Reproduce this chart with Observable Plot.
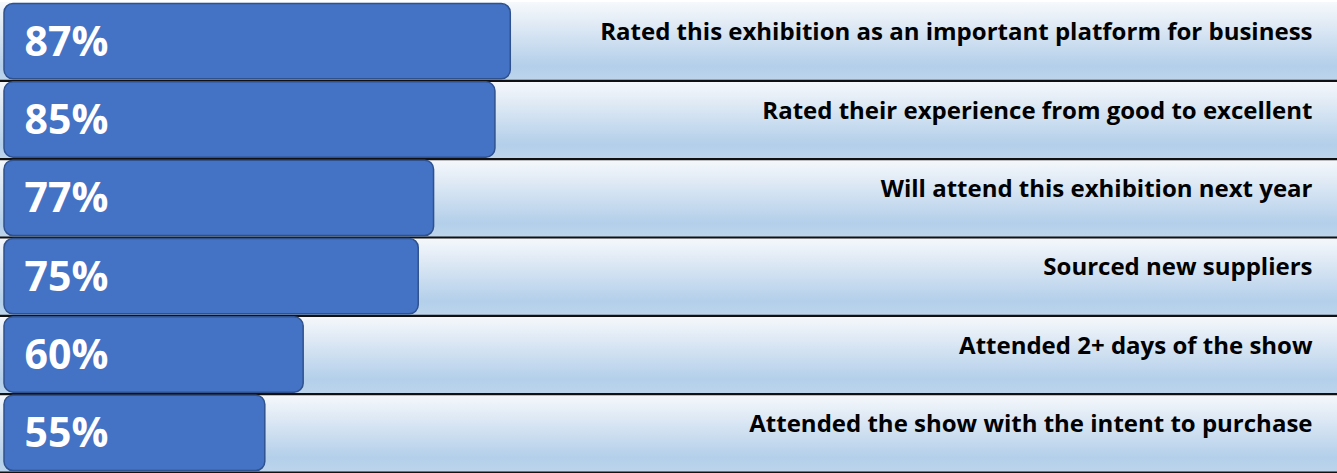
<!DOCTYPE html>
<html>
<head>
<meta charset="utf-8">
<script src="https://cdn.jsdelivr.net/npm/d3@7"></script>
<script src="https://cdn.jsdelivr.net/npm/@observablehq/plot@0.6"></script>
<style>
  html, body { margin: 0; padding: 0; background: #ffffff; }
  #chart svg { display: block; }
</style>
</head>
<body>
<div id="chart"></div>
<script>
const labels = [
  "Rated this exhibition as an important platform for business",
  "Rated their experience from good to excellent",
  "Will attend this exhibition next year",
  "Sourced new suppliers",
  "Attended 2+ days of the show",
  "Attended the show with the intent to purchase"
];
const values = [87, 85, 77, 75, 60, 55];
const barBase = 21;

const rows = labels.map((label, i) => ({i, label, value: values[i]}));

const defsMark = () => {
  const ns = "http://www.w3.org/2000/svg";
  const defs = document.createElementNS(ns, "defs");
  defs.innerHTML = `
    <linearGradient id="rowgrad" x1="0" y1="0" x2="0" y2="1">
      <stop offset="0" stop-color="#f6f9fc"/>
      <stop offset="0.25" stop-color="#e3ecf6"/>
      <stop offset="0.82" stop-color="#b3cfea"/>
      <stop offset="1" stop-color="#bdd5ec"/>
    </linearGradient>`;
  return defs;
};

const chart = Plot.plot({
  width: 1337,
  height: 473,
  marginTop: 2,
  marginBottom: 1,
  marginLeft: 0,
  marginRight: 0,
  style: {fontFamily: "'Open Sans', sans-serif", background: "#ffffff"},
  x: {domain: [barBase, 100], range: [4, 610], axis: null},
  y: {domain: [0, rows.length], range: [2, 472], axis: null},
  marks: [
    defsMark,
    Plot.rect(rows, {y1: d => d.i, y2: d => d.i + 1, fill: "url(#rowgrad)"}),
    Plot.ruleY(rows, {y: d => d.i + 1, stroke: "#111111", strokeWidth: 2.2}),
    Plot.rect(rows, {
      x1: barBase, x2: "value",
      y1: d => d.i, y2: d => d.i + 1,
      insetTop: 1.5, insetBottom: 1.5,
      rx: 9, fill: "#4472c4", stroke: "#2f528f", strokeWidth: 1.5
    }),
    Plot.text(rows, {
      y: d => d.i + 0.5, text: d => d.value + "%",
      frameAnchor: "left", textAnchor: "start", dx: 24, dy: 1,
      fill: "#ffffff", fontSize: 41, fontWeight: "bold"
    }),
    Plot.text(rows, {
      y: d => d.i + 0.5, text: "label",
      frameAnchor: "right", textAnchor: "end", dx: -25, dy: -9,
      fill: "#000000", fontSize: 24, fontWeight: "bold"
    })
  ]
});
document.getElementById("chart").appendChild(chart);
</script>
</body>
</html>
